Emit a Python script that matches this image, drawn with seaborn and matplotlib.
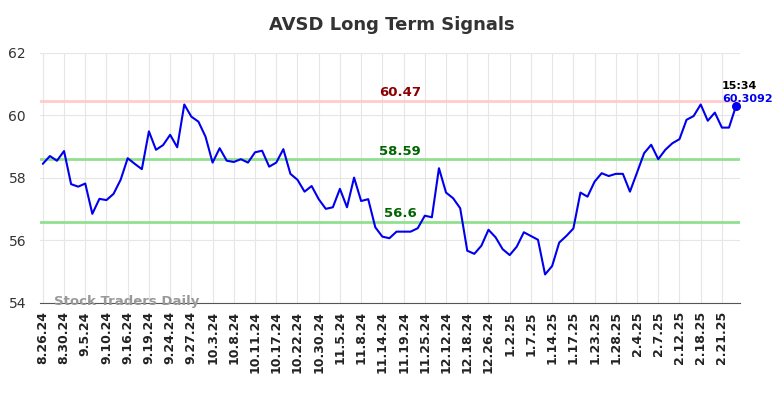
import numpy as np
import pandas as pd
import matplotlib
matplotlib.use("Agg")
import matplotlib.pyplot as plt
import seaborn as sns

# DATA
prices = [
    58.45, 58.70, 58.55, 58.86, 57.80, 57.72, 57.82, 56.85, 57.33, 57.29,
    57.49, 57.94, 58.63, 58.45, 58.28, 59.49, 58.90, 59.05, 59.38, 58.98,
    60.35, 59.96, 59.80, 59.32, 58.49, 58.95, 58.55, 58.51, 58.60, 58.49,
    58.82, 58.87, 58.36, 58.49, 58.92, 58.13, 57.94, 57.56, 57.74, 57.32,
    57.01, 57.06, 57.65, 57.06, 58.01, 57.26, 57.32, 56.42, 56.12, 56.07,
    56.28, 56.28, 56.28, 56.39, 56.79, 56.74, 58.31, 57.53, 57.35, 57.03,
    55.67, 55.57, 55.83, 56.34, 56.10, 55.72, 55.53, 55.80, 56.26, 56.14,
    56.02, 54.91, 55.18, 55.93, 56.14, 56.38, 57.53, 57.40, 57.88, 58.15,
    58.06, 58.13, 58.13, 57.56, 58.17, 58.79, 59.06, 58.60, 58.90, 59.11,
    59.24, 59.86, 59.98, 60.35, 59.83, 60.09, 59.61, 59.61, 60.3092
]

tick_labels = [
    "8.26.24", "8.30.24", "9.5.24", "9.10.24", "9.16.24", "9.19.24",
    "9.24.24", "9.27.24", "10.3.24", "10.8.24", "10.11.24", "10.17.24",
    "10.22.24", "10.30.24", "11.5.24", "11.8.24", "11.14.24", "11.19.24",
    "11.25.24", "12.12.24", "12.18.24", "12.26.24", "1.2.25", "1.7.25",
    "1.14.25", "1.17.25", "1.23.25", "1.28.25", "2.4.25", "2.7.25",
    "2.12.25", "2.18.25", "2.21.25"
]

resistance = 60.47
mid_level = 58.59
support = 56.6
last_time = "15:34"

df = pd.DataFrame({"idx": np.arange(len(prices)), "price": prices})

# PLOT
sns.set_style("whitegrid", {"grid.color": "#e6e6e6", "axes.edgecolor": "#555555"})

fig = plt.figure(figsize=(7.84, 3.98), dpi=100)
ax = fig.add_axes([0.051, 0.239, 0.893, 0.628])

ax.axhline(resistance, color="#ffcccc", lw=2, zorder=1)
ax.axhline(mid_level, color="#90e090", lw=2, zorder=1)
ax.axhline(support, color="#90e090", lw=2, zorder=1)

sns.lineplot(data=df, x="idx", y="price", color="#0000ee", lw=1.5, ax=ax, zorder=3)

last_x = df["idx"].iloc[-1]
last_y = df["price"].iloc[-1]
ax.scatter([last_x], [last_y], color="#0000ee", s=30, zorder=4)

# level labels
mid_x = 50.5
ax.text(mid_x, resistance + 0.05, f"{resistance:g}", color="#8b0000",
        fontsize=9.5, fontweight="bold", ha="center", va="bottom")
ax.text(mid_x, mid_level + 0.05, f"{mid_level:g}", color="#006400",
        fontsize=9.5, fontweight="bold", ha="center", va="bottom")
ax.text(mid_x, support + 0.05, f"{support:g}", color="#006400",
        fontsize=9.5, fontweight="bold", ha="center", va="bottom")

# last value annotation
ax.text(last_x - 2.0, last_y + 0.47, last_time, color="black",
        fontsize=8, fontweight="bold", ha="left", va="bottom")
ax.text(last_x - 2.0, last_y + 0.06, f"{last_y}", color="#0000ee",
        fontsize=8, fontweight="bold", ha="left", va="bottom")

ax.text(1.6, 54.05, "Stock Traders Daily", color="#999999",
        fontsize=9.5, fontweight="bold", ha="left", va="center", zorder=5)

ax.set_xlim(-0.4, 98.57)
ax.set_ylim(54, 62)
ax.set_yticks([54, 56, 58, 60, 62])
ax.set_xticks(np.arange(0, len(prices), 3)[:len(tick_labels)])
ax.set_xticklabels(tick_labels, rotation=90, fontweight="bold", fontsize=9)
ax.tick_params(axis="y", labelsize=10, colors="#333333", length=0, pad=10)
ax.tick_params(axis="x", length=0, pad=6, colors="#222222")

ax.set_xlabel("")
ax.set_ylabel("")
for side in ["top", "right", "left"]:
    ax.spines[side].set_visible(False)
ax.spines["bottom"].set_color("#555555")

fig.suptitle("AVSD Long Term Signals", fontsize=13, fontweight="bold",
             color="#333333", y=0.96)

plt.savefig("out.png", dpi=100)
